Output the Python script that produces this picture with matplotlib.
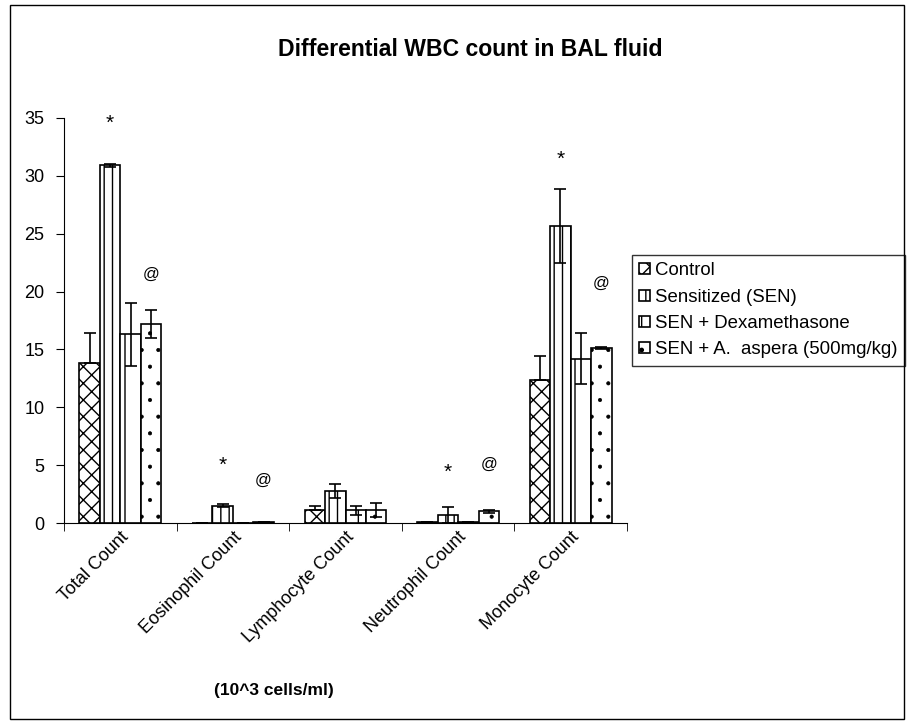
import numpy as np
import matplotlib.pyplot as plt
from matplotlib.patches import Rectangle

plt.rcParams['font.family'] = ['Liberation Sans', 'DejaVu Sans']
plt.rcParams['hatch.linewidth'] = 1.0

categories = ['Total Count', 'Eosinophil Count', 'Lymphocyte Count',
              'Neutrophil Count', 'Monocyte Count']
groups = ['Control', 'Sensitized (SEN)', 'SEN + Dexamethasone',
          'SEN + A.  aspera (500mg/kg)']

control = [13.8, 0.0, 1.1, 0.1, 12.4]
control_err = [2.6, 0.0, 0.4, 0.0, 2.0]
sen = [30.9, 1.5, 2.8, 0.7, 25.7]
sen_err = [0.1, 0.15, 0.6, 0.7, 3.2]
dexa = [16.3, 0.0, 1.1, 0.1, 14.2]
dexa_err = [2.7, 0.0, 0.4, 0.0, 2.2]
aspera = [17.2, 0.1, 1.1, 1.0, 15.1]
aspera_err = [1.2, 0.0, 0.6, 0.15, 0.1]

# significance marks: (category index, bar index, height, symbol)
marks = [(0, 1, 34.5, '*'), (0, 3, 21.5, '@'),
         (1, 1, 5.0, '*'), (1, 3, 3.7, '@'),
         (3, 1, 4.4, '*'), (3, 3, 5.1, '@'),
         (4, 1, 31.4, '*'), (4, 3, 20.7, '@')]

fig = plt.figure(figsize=(9.07, 7.22), dpi=100)
ax = fig.add_axes([64 / 907, 1 - 523 / 722, (627 - 64) / 907, (523 - 118) / 722])

x = np.arange(len(categories))
w = 1 / 5.5
series = [(control, control_err, 'xx', 'plus', 1.0),
          (sen, sen_err, '||', 'both', 1.0),
          (dexa, dexa_err, '|', 'both', 1.0),
          (aspera, aspera_err, '.', 'both', 0.5)]
for i, (vals, errs, hatch, direction, hlw) in enumerate(series):
    pos = x + (i - 1.5) * w
    with plt.rc_context({'hatch.linewidth': hlw}):
        ax.bar(pos, vals, w, color='white', edgecolor='black', hatch=hatch,
               linewidth=1.2, label=groups[i])
    lower = [0] * len(errs) if direction == 'plus' else errs
    ax.errorbar(pos, vals, yerr=[lower, errs], fmt='none', ecolor='black',
                elinewidth=1.2, capsize=4.5, capthick=1.2)

for ci, bi, h, sym in marks:
    size = 15 if sym == '*' else 12
    ax.text(x[ci] + (bi - 1.5) * w, h, sym, ha='center', va='center',
            fontsize=size)

ax.set_xlim(-0.5, len(categories) - 0.5)
ax.set_ylim(0, 35)
ax.set_yticks(range(0, 36, 5))
ax.tick_params(axis='y', direction='out', length=6, labelsize=13, pad=8)
ax.set_xticks(x)
ax.set_xticklabels(categories, rotation=45, ha='right', rotation_mode='anchor',
                   fontsize=13)
ax.tick_params(axis='x', length=0, pad=4)
ax.set_xticks(np.arange(-0.5, len(categories)), minor=True)
ax.tick_params(axis='x', which='minor', length=6, direction='out')
ax.spines['top'].set_visible(False)
ax.spines['right'].set_visible(False)

ax.legend(loc='upper left', bbox_to_anchor=(632 / 907, 1 - 255 / 722),
          bbox_transform=fig.transFigure, fontsize=13.4, frameon=True,
          fancybox=False, edgecolor='black', handlelength=0.55,
          handleheight=0.55, handletextpad=0.3, labelspacing=0.5,
          borderaxespad=0, borderpad=0.4)

fig.text(470 / 907, 1 - 49 / 722, 'Differential WBC count in BAL fluid',
         ha='center', va='center', fontsize=16.6, fontweight='bold')
fig.text(274 / 907, 1 - 690 / 722, '(10^3 cells/ml)', ha='center',
         va='center', fontsize=12.5, fontweight='bold')

fig.patches.append(Rectangle((10 / 907, 3 / 722), 894 / 907, 714 / 722,
                             transform=fig.transFigure, fill=False,
                             edgecolor='black', linewidth=1))

fig.savefig('out.png', dpi=100)
